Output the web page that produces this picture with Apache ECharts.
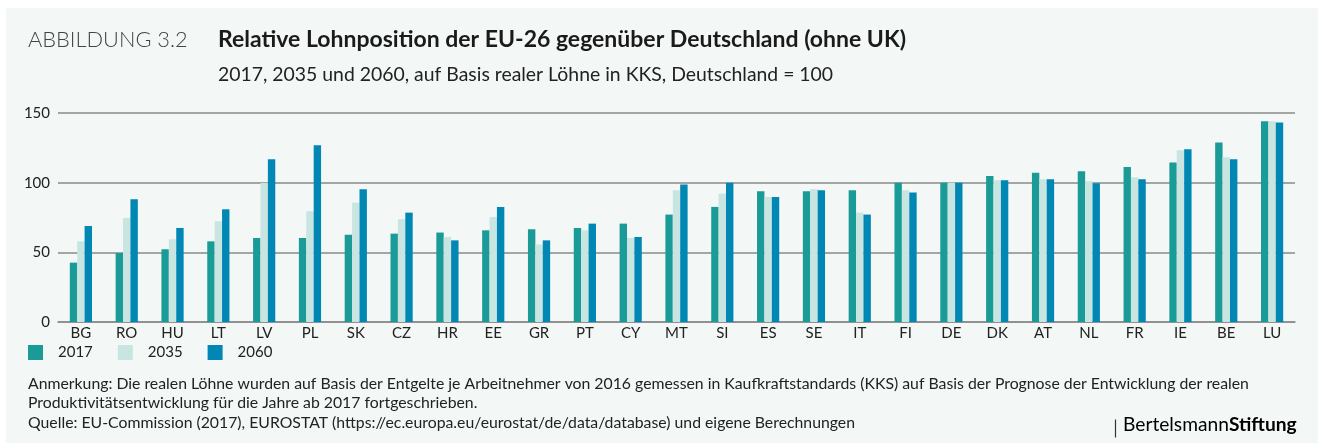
<!DOCTYPE html>
<html>
<head>
<meta charset="utf-8">
<script src="https://cdn.jsdelivr.net/npm/echarts@6/dist/echarts.min.js"></script>
<style>
  html, body { margin: 0; padding: 0; background: #fff; }
  #chart { position: absolute; left: 6px; top: 8px; width: 1312px; height: 435px; background: #f3f8f6; }
</style>
</head>
<body>
<div id="chart"></div>
<script>
// Länder (sortiert nach Lohnposition 2017)
const countries = ['BG', 'RO', 'HU', 'LT', 'LV', 'PL', 'SK', 'CZ', 'HR', 'EE', 'GR', 'PT', 'CY', 'MT',
    'SI', 'ES', 'SE', 'IT', 'FI', 'DE', 'DK', 'AT', 'NL', 'FR', 'IE', 'BE', 'LU'];
const seriesNames = ['2017', '2035', '2060'];
const values2017 = [42.6, 49.5, 52.2, 57.9, 60.3, 60.3, 62.7, 63.4, 64.2, 65.8, 66.5, 67.5, 70.6, 77.1,
    82.6, 93.8, 93.8, 94.5, 100, 100, 104.8, 107.2, 108.2, 111.3, 114.4, 128.8, 144.1];
const values2035 = [57.9, 74.7, 59.4, 72.3, 99.8, 79.5, 85.7, 73.7, 61.0, 75.4, 55.6, 65.8, 60.3, 94.5,
    92.2, 89.7, 95.3, 78.5, 94.5, 100, 101.7, 102.4, 101.0, 103.9, 123.3, 118.2, 144.1];
const values2060 = [68.9, 88.1, 67.5, 80.9, 116.8, 126.8, 95.3, 78.5, 58.6, 82.6, 58.6, 70.6, 61.0, 98.6,
    100, 89.7, 94.5, 77.1, 92.9, 100, 101.7, 102.4, 99.5, 102.4, 124.0, 116.8, 143.1];
const yTicks = [0, 50, 100, 150];

const colors = ['#1b9b97', '#c9e5e1', '#0087b4'];
const font = 'Lato, "Noto Sans", sans-serif';

const chart = echarts.init(document.getElementById('chart'));

const allValues = [values2017, values2035, values2060];

chart.setOption({
    backgroundColor: '#f3f8f6',
    textStyle: { fontFamily: font },
    animation: false,
    title: [
        {
            text: 'ABBILDUNG 3.2', left: 17, top: 16,
            textStyle: { fontFamily: font, fontSize: 21.8, fontWeight: 300, color: '#444' }
        },
        {
            text: 'Relative Lohnposition der EU-26 gegenüber Deutschland (ohne UK)', left: 207, top: 15,
            textStyle: { fontFamily: font, fontSize: 23, fontWeight: 'bold', color: '#1a1a1a' }
        },
        {
            text: '2017, 2035 und 2060, auf Basis realer Löhne in KKS, Deutschland = 100', left: 207, top: 52,
            textStyle: { fontFamily: font, fontSize: 19.4, fontWeight: 'normal', color: '#222' }
        },
        {
            text: 'Anmerkung: Die realen Löhne wurden auf Basis der Entgelte je Arbeitnehmer von 2016 gemessen in Kaufkraftstandards (KKS) auf Basis der Prognose der Entwicklung der realen\n'
                + 'Produktivitätsentwicklung für die Jahre ab 2017 fortgeschrieben.\n'
                + 'Quelle: EU-Commission (2017), EUROSTAT (https://ec.europa.eu/eurostat/de/data/database) und eigene Berechnungen',
            left: 17, top: 361,
            textStyle: { fontFamily: font, fontSize: 15.8, fontWeight: 'normal', color: '#222', lineHeight: 19.5 }
        }
    ],
    graphic: [
        {
            type: 'line', left: 1107, top: 409,
            shape: { x1: 0, y1: 0, x2: 0, y2: 18 },
            style: { stroke: '#333', lineWidth: 1.2 }
        },
        {
            type: 'text', left: 1117, top: 407,
            style: {
                text: '{a|Bertelsmann}{b|Stiftung}',
                rich: {
                    a: { fontFamily: font, fontSize: 19.2, color: '#222' },
                    b: { fontFamily: font, fontSize: 19.2, fontWeight: 'bold', color: '#222' }
                }
            }
        }
    ],
    legend: {
        data: seriesNames,
        left: 17, top: 332,
        itemWidth: 15, itemHeight: 15, itemGap: 25,
        icon: 'rect',
        textStyle: { fontFamily: font, fontSize: 15, color: '#222', padding: [0, 0, 0, 10] }
    },
    grid: { left: 52, right: 23, top: 105, bottom: 121, containLabel: false },
    xAxis: {
        type: 'category',
        data: countries,
        axisTick: { show: false },
        axisLine: { lineStyle: { color: '#8a8a8a', width: 1.5 } },
        axisLabel: { interval: 0, fontSize: 15, color: '#222', margin: 4, fontFamily: font }
    },
    yAxis: {
        type: 'value',
        min: yTicks[0], max: yTicks[yTicks.length - 1], interval: 50,
        axisLine: { show: false },
        axisTick: { show: false },
        axisLabel: { fontSize: 15, color: '#222', margin: 8, fontFamily: font },
        splitLine: { lineStyle: { color: '#8a8a8a', width: 1.5 } }
    },
    series: seriesNames.map((name, i) => ({
        name,
        type: 'bar',
        data: allValues[i],
        barWidth: 7.4,
        barGap: '0%',
        itemStyle: { color: colors[i] }
    }))
});

window.addEventListener('resize', () => chart.resize());
</script>
</body>
</html>
